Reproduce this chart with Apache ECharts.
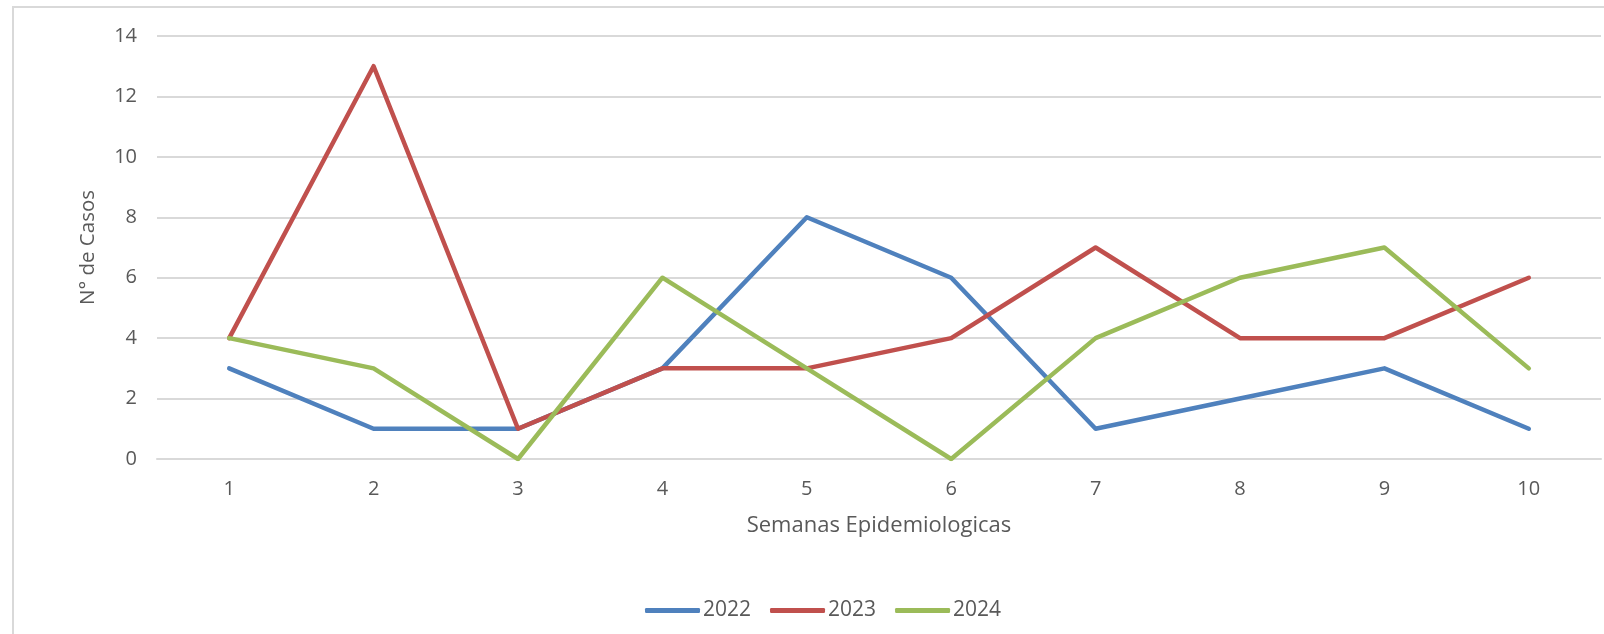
<!DOCTYPE html>
<html>
<head>
<meta charset="utf-8">
<script src="https://cdn.jsdelivr.net/npm/echarts@6/dist/echarts.min.js"></script>
<style>
  html, body { margin: 0; padding: 0; background: #fff; }
  #chart { width: 1604px; height: 634px; }
</style>
</head>
<body>
<div id="chart"></div>
<script>
// weeks on the x axis
const semanas = ['1', '2', '3', '4', '5', '6', '7', '8', '9', '10'];

// cases per week, one array per year
const casos2022 = [3, 1, 1, 3, 8, 6, 1, 2, 3, 1];
const casos2023 = [4, 13, 1, 3, 3, 4, 7, 4, 4, 6];
const casos2024 = [4, 3, 0, 6, 3, 0, 4, 6, 7, 3];

const years = ['2022', '2023', '2024'];
const colors = ['#4F81BD', '#C0504D', '#9BBB59'];
const textColor = '#595959';
const fontFamily = '"Open Sans", sans-serif';

function lineSeries(name, data, color) {
    return {
        name: name,
        type: 'line',
        data: data,
        symbol: 'none',
        lineStyle: { width: 4.5, color: color, cap: 'round', join: 'round' },
        itemStyle: { color: color }
    };
}

let option = {
    animation: false,
    textStyle: { fontFamily: fontFamily },
    color: colors,
    grid: { left: 157, right: 3, top: 36, bottom: 175 },
    // outer chart frame (left and top edges are the only visible ones)
    graphic: [{
        type: 'polyline',
        shape: { points: [[13, 634], [13, 7], [1604, 7]] },
        style: { stroke: '#d9d9d9', lineWidth: 2, fill: null }
    }],
    legend: {
        data: years,
        left: 640,
        top: 595,
        icon: 'roundRect',
        itemWidth: 55,
        itemHeight: 5,
        itemGap: 19,
        textStyle: { color: textColor, fontSize: 21, fontFamily: fontFamily, padding: [0, 0, 0, -2] }
    },
    xAxis: {
        type: 'category',
        data: semanas,
        boundaryGap: true,
        name: 'Semanas Epidemiologicas',
        nameLocation: 'middle',
        nameGap: 56,
        nameTextStyle: { color: textColor, fontSize: 22 },
        axisLine: { show: true, lineStyle: { color: '#d9d9d9', width: 2 } },
        axisTick: { show: false },
        axisLabel: { color: textColor, fontSize: 20, margin: 20 }
    },
    yAxis: {
        type: 'value',
        min: 0,
        max: 14,
        interval: 2,
        name: 'N° de Casos',
        nameLocation: 'middle',
        nameGap: 58,
        nameTextStyle: { color: textColor, fontSize: 20.5 },
        axisLine: { show: false },
        axisTick: { show: false },
        axisLabel: { color: textColor, fontSize: 20, margin: 20 },
        splitLine: { lineStyle: { color: '#d9d9d9', width: 2 } }
    },
    series: [
        lineSeries('2022', casos2022, colors[0]),
        lineSeries('2023', casos2023, colors[1]),
        lineSeries('2024', casos2024, colors[2])
    ]
};

let chart = echarts.init(document.getElementById('chart'), null, { renderer: 'canvas' });
chart.setOption(option);
</script>
</body>
</html>
